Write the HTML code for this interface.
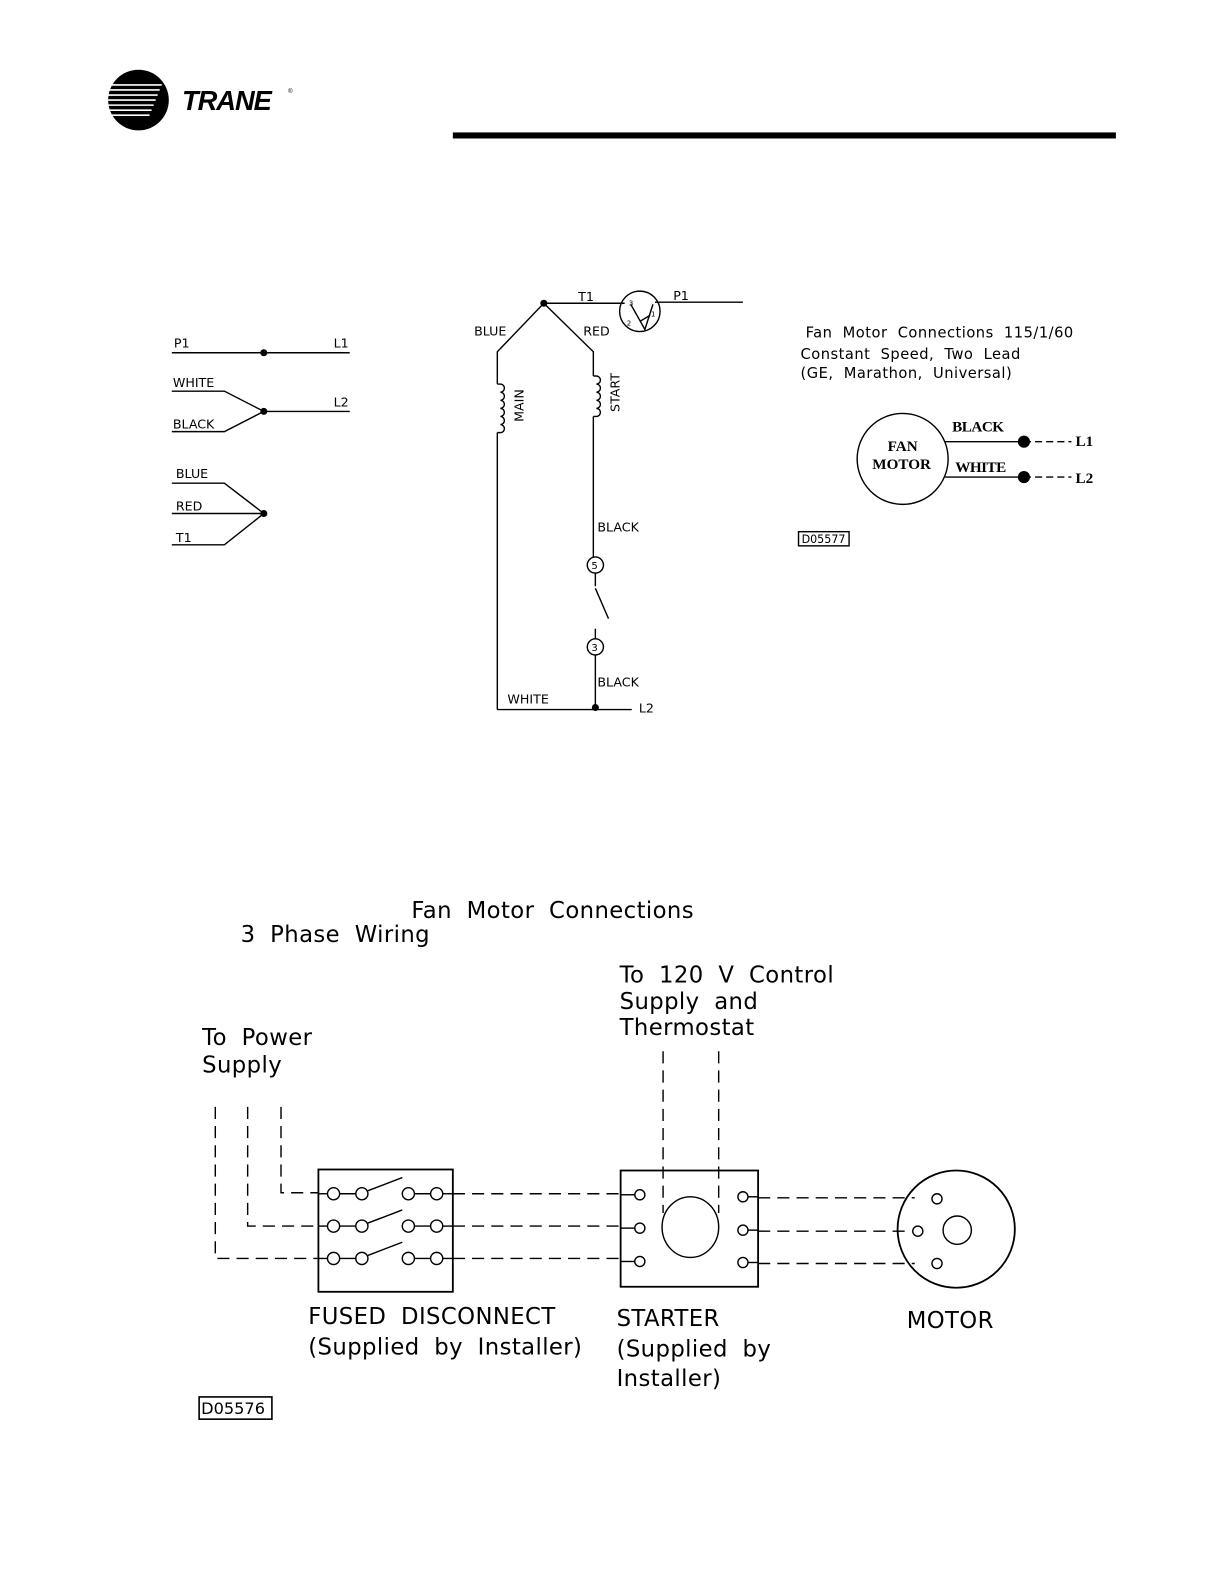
<!DOCTYPE html>
<html><head><meta charset="utf-8"><style>
html,body{margin:0;padding:0;background:#fff}
svg{display:block}
.m{font-family:"DejaVu Sans","Liberation Sans",sans-serif;fill:#000}
</style></head><body>
<svg width="1225" height="1585" viewBox="0 0 1225 1585" xmlns="http://www.w3.org/2000/svg">
<g transform="scale(1.0108)">
<circle cx="137" cy="99" r="30" fill="#000"/>
<g stroke="#fff" stroke-width="1.6">
<line x1="107" y1="84" x2="160" y2="84"/><line x1="107" y1="89" x2="158" y2="89"/>
<line x1="107" y1="94" x2="156" y2="94"/><line x1="107" y1="99" x2="154" y2="99"/>
<line x1="107" y1="104" x2="152" y2="104"/><line x1="107" y1="109" x2="150" y2="109"/>
<line x1="107" y1="114" x2="148" y2="114"/>
</g>
<text x="180" y="109" font-family="Liberation Sans" font-weight="bold" font-style="italic" font-size="27" letter-spacing="-1">TRANE</text>
<text x="285" y="92" font-family="Liberation Sans" font-size="6">®</text>
<rect x="448" y="131" width="656" height="6" fill="#000"/>
<line x1="0" y1="1583" x2="1225" y2="1583" stroke="#000" stroke-width="2"/>

<g stroke="#000" stroke-width="1.4" fill="none">
<line x1="170" y1="349" x2="346" y2="349"/>
<polyline points="170,387 222,387 261,407 222,427 170,427"/>
<line x1="261" y1="407" x2="346" y2="407"/>
<polyline points="170,478 222,478 261,508 222,539 170,539"/>
<line x1="170" y1="508" x2="261" y2="508"/>
<line x1="538" y1="300" x2="618" y2="300"/>
<line x1="648" y1="299" x2="735" y2="299"/>
<circle cx="633" cy="308" r="20"/>
<polyline points="624,301 638,326 646,301"/>
<line x1="633" y1="318" x2="643" y2="312"/>
<polyline points="538,300 492,348 492,380"/>
<path d="M492,380 h3 a4,4 0 0 1 0,8 a4,4 0 0 1 0,8 a4,4 0 0 1 0,8 a4,4 0 0 1 0,8 a4,4 0 0 1 0,8 a4,4 0 0 1 0,8 h-3"/>
<line x1="492" y1="428" x2="492" y2="702"/>
<polyline points="538,300 587,348 587,372"/>
<path d="M587,372 h3 a4,4 0 0 1 0,8 a4,4 0 0 1 0,8 a4,4 0 0 1 0,8 a4,4 0 0 1 0,8 a4,4 0 0 1 0,8 h-3"/>
<line x1="587" y1="412" x2="587" y2="551"/>
<circle cx="589" cy="559" r="8"/>
<line x1="589" y1="567" x2="589" y2="580"/>
<line x1="589" y1="582" x2="602" y2="612"/>
<line x1="589" y1="622" x2="589" y2="632"/>
<circle cx="589" cy="640" r="8"/>
<line x1="589" y1="648" x2="589" y2="702"/>
<line x1="492" y1="702" x2="625" y2="702"/>
<circle cx="893" cy="454" r="45"/>
<line x1="935" y1="437" x2="1013" y2="437"/>
<line x1="935" y1="472" x2="1013" y2="472"/>
<line x1="1013" y1="437" x2="1060" y2="437" stroke-dasharray="7,4"/>
<line x1="1013" y1="472" x2="1060" y2="472" stroke-dasharray="7,4"/>
<rect x="790" y="526" width="50" height="14"/>
<g stroke-dasharray="12,7">
<polyline points="213,1095 213,1245 315,1245"/>
<polyline points="245,1095 245,1213 315,1213"/>
<polyline points="278,1095 278,1180 315,1180"/>
<line x1="448" y1="1181" x2="613" y2="1181"/>
<line x1="448" y1="1213" x2="613" y2="1213"/>
<line x1="448" y1="1245" x2="613" y2="1245"/>
<line x1="656" y1="1040" x2="656" y2="1200"/>
<line x1="711" y1="1040" x2="711" y2="1200"/>
<line x1="750" y1="1185" x2="905" y2="1185"/>
<line x1="750" y1="1218" x2="895" y2="1218"/>
<line x1="750" y1="1250" x2="905" y2="1250"/>
</g>
<rect x="315" y="1157" width="133" height="121" stroke-width="1.8"/>
<g>
<line x1="315" y1="1181" x2="324" y2="1181"/><circle cx="330" cy="1181" r="6"/><line x1="336" y1="1181" x2="352" y2="1181"/><circle cx="358" cy="1181" r="6"/><line x1="364" y1="1178" x2="398" y2="1165"/><circle cx="404" cy="1181" r="6"/><line x1="410" y1="1181" x2="426" y2="1181"/><circle cx="432" cy="1181" r="6"/><line x1="438" y1="1181" x2="448" y2="1181"/>
<line x1="315" y1="1213" x2="324" y2="1213"/><circle cx="330" cy="1213" r="6"/><line x1="336" y1="1213" x2="352" y2="1213"/><circle cx="358" cy="1213" r="6"/><line x1="364" y1="1210" x2="398" y2="1197"/><circle cx="404" cy="1213" r="6"/><line x1="410" y1="1213" x2="426" y2="1213"/><circle cx="432" cy="1213" r="6"/><line x1="438" y1="1213" x2="448" y2="1213"/>
<line x1="315" y1="1245" x2="324" y2="1245"/><circle cx="330" cy="1245" r="6"/><line x1="336" y1="1245" x2="352" y2="1245"/><circle cx="358" cy="1245" r="6"/><line x1="364" y1="1242" x2="398" y2="1229"/><circle cx="404" cy="1245" r="6"/><line x1="410" y1="1245" x2="426" y2="1245"/><circle cx="432" cy="1245" r="6"/><line x1="438" y1="1245" x2="448" y2="1245"/>
</g>
<rect x="614" y="1158" width="136" height="115" stroke-width="1.8"/>
<circle cx="633" cy="1182" r="5"/><circle cx="633" cy="1215" r="5"/><circle cx="633" cy="1248" r="5"/>
<circle cx="735" cy="1184" r="5"/><circle cx="735" cy="1217" r="5"/><circle cx="735" cy="1249" r="5"/>
<line x1="614" y1="1182" x2="628" y2="1182"/><line x1="614" y1="1215" x2="628" y2="1215"/><line x1="614" y1="1248" x2="628" y2="1248"/>
<line x1="740" y1="1184" x2="750" y2="1184"/><line x1="740" y1="1217" x2="750" y2="1217"/><line x1="740" y1="1249" x2="750" y2="1249"/>
<ellipse cx="683" cy="1214" rx="28" ry="30"/>
<circle cx="946" cy="1216" r="58" stroke-width="1.8"/>
<circle cx="927" cy="1186" r="5"/><circle cx="908" cy="1218" r="5"/><circle cx="927" cy="1250" r="5"/>
<circle cx="947" cy="1217" r="14"/>
<rect x="197" y="1382" width="72" height="22" stroke-width="1.6"/>
</g>
<g fill="#000">
<circle cx="261" cy="349" r="3.5"/><circle cx="261" cy="407" r="3.5"/><circle cx="261" cy="508" r="3.5"/>
<circle cx="538" cy="300" r="3.5"/><circle cx="589" cy="700" r="3.5"/>
<circle cx="1013" cy="437" r="6"/><circle cx="1013" cy="472" r="6"/>
</g>
<g class="m" font-size="12.5">
<text x="172" y="344">P1</text><text x="330" y="344">L1</text>
<text x="171" y="383">WHITE</text><text x="171" y="424">BLACK</text><text x="330" y="402">L2</text>
<text x="174" y="473">BLUE</text><text x="174" y="505">RED</text><text x="174" y="536">T1</text>
<text x="572" y="298">T1</text><text x="666" y="297">P1</text>
<text x="469" y="332">BLUE</text><text x="577" y="332">RED</text>
<text x="591" y="526">BLACK</text><text x="591" y="679">BLACK</text>
<text x="502" y="696">WHITE</text><text x="632" y="705">L2</text>
<text x="518" y="385" transform="rotate(-90 518 385)" text-anchor="end">MAIN</text>
<text x="613" y="369" transform="rotate(-90 613 369)" text-anchor="end">START</text>
<text x="585" y="563" font-size="10">5</text><text x="585" y="644" font-size="10">3</text>
<text x="622" y="302" font-size="7">3</text><text x="644" y="313" font-size="7">1</text><text x="620" y="322" font-size="7">2</text>
</g>
<g class="m" font-size="14.5" word-spacing="5" letter-spacing="0.5">
<text x="797" y="334">Fan Motor Connections 115/1/60</text>
<text x="792" y="355">Constant Speed, Two Lead</text>
<text x="792" y="374">(GE, Marathon, Universal)</text>
<text x="793" y="537" font-size="11" word-spacing="0" letter-spacing="0">D05577</text>
</g>
<g font-family="Liberation Serif" font-weight="bold" font-size="15" fill="#000">
<text x="893" y="446" text-anchor="middle">FAN</text>
<text x="892" y="464" text-anchor="middle">MOTOR</text>
<text x="942" y="427" letter-spacing="-0.5">BLACK</text>
<text x="945" y="467" letter-spacing="-0.5">WHITE</text>
<text x="1064" y="441">L1</text><text x="1064" y="478">L2</text>
</g>
<g class="m" font-size="22.5" word-spacing="7" letter-spacing="0.4">
<text x="407" y="908">Fan Motor Connections</text>
<text x="238" y="932">3 Phase Wiring</text>
<text x="613" y="972">To 120 V Control</text>
<text x="613" y="998">Supply and</text>
<text x="613" y="1024">Thermostat</text>
<text x="200" y="1034">To Power</text>
<text x="200" y="1061">Supply</text>
<text x="305" y="1310">FUSED DISCONNECT</text>
<text x="305" y="1340">(Supplied by Installer)</text>
<text x="610" y="1312">STARTER</text>
<text x="610" y="1342">(Supplied by</text>
<text x="610" y="1371">Installer)</text>
<text x="897" y="1314">MOTOR</text>
<text x="199" y="1399" font-size="16" word-spacing="0" letter-spacing="0">D05576</text>
</g>
</g>
</svg>
</body></html>
